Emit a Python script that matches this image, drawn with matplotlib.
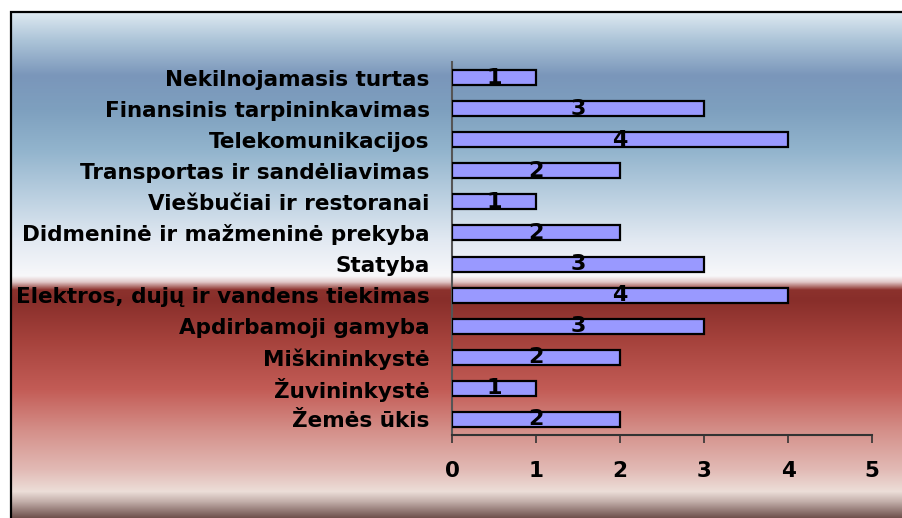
import numpy as np
import matplotlib.pyplot as plt
from matplotlib.patches import Rectangle

plt.rcParams['font.family'] = ['DejaVu Sans']

categories = [
    "Žemės ūkis",
    "Žuvininkystė",
    "Miškininkystė",
    "Apdirbamoji gamyba",
    "Elektros, dujų ir vandens tiekimas",
    "Statyba",
    "Didmeninė ir mažmeninė prekyba",
    "Viešbučiai ir restoranai",
    "Transportas ir sandėliavimas",
    "Telekomunikacijos",
    "Finansinis tarpininkavimas",
    "Nekilnojamasis turtas",
]
values = [2, 1, 2, 3, 4, 3, 2, 1, 2, 4, 3, 1]
x_ticks = [0, 1, 2, 3, 4, 5]

W, H = 902, 518
fig = plt.figure(figsize=(W / 100, H / 100), dpi=100)

# background gradient (pixel rows from top of image -> rgb)
stops = [
    (12, (222, 233, 241)), (40, (172, 196, 216)), (75, (122, 150, 186)),
    (110, (126, 160, 191)), (150, (146, 180, 205)), (200, (190, 210, 226)),
    (240, (226, 233, 242)), (276, (248, 248, 250)), (282, (225, 200, 200)),
    (290, (140, 50, 45)), (300, (136, 46, 42)), (340, (165, 66, 60)),
    (390, (195, 92, 86)), (430, (212, 142, 136)), (470, (226, 186, 181)),
    (492, (236, 222, 216)), (502, (195, 175, 170)), (518, (112, 82, 78)),
]
rows = np.arange(12, H + 1)
sy = [s[0] for s in stops]
grad = np.stack([np.interp(rows, sy, [s[1][c] for s in stops]) for c in range(3)], axis=1) / 255
bg = fig.add_axes([11 / W, 0, 1 - 11 / W, (H - 12) / H])
bg.imshow(grad[:, None, :], aspect='auto', extent=[0, 1, 0, 1])
bg.set_axis_off()
fig.patches.append(Rectangle((11 / W, -0.01), 1.0, (H - 12) / H + 0.01,
                             transform=fig.transFigure, fill=False,
                             edgecolor='black', linewidth=1.6))

ax = fig.add_axes([452 / W, 1 - 435 / H, 420 / W, 373 / H])
ax.patch.set_alpha(0)
y = np.arange(len(categories))
bars = ax.barh(y, values, height=0.48, color='#9999ff', edgecolor='black', linewidth=1.6, zorder=3)

# soft vertical shading inside each bar
shade = np.array([0.5, 0.75, 0.95, 1.0, 0.95, 0.8, 0.55])[:, None]
base = np.array([153, 153, 255]) / 255
img = np.clip(base[None, None, :] * shade[:, :, None] + (1 - shade[:, :, None]) * np.array([0.35, 0.35, 0.7]), 0, 1)
for b in bars:
    im = ax.imshow(img, aspect='auto', zorder=2.5,
                   extent=[b.get_x(), b.get_x() + b.get_width(), b.get_y(), b.get_y() + b.get_height()])
    im.set_clip_path(b)

for yi, v in zip(y, values):
    ax.text(v / 2, yi, str(v), ha='center', va='center', fontsize=16,
            fontweight='bold', zorder=4)

ax.set_xlim(0, 5)
ax.set_ylim(-0.5, len(categories) - 0.5)
ax.set_xticks(x_ticks)
ax.set_xticklabels([str(t) for t in x_ticks], fontsize=15.5, fontweight='bold')
ax.set_yticks(y)
ax.set_yticklabels(categories, fontsize=15.5, fontweight='bold')
ax.tick_params(axis='y', length=0, pad=16)
ax.tick_params(axis='x', length=6, width=1.2, color='#333333', pad=13, direction='out')
for s in ['top', 'right']:
    ax.spines[s].set_visible(False)
ax.spines['left'].set_color('#555555')
ax.spines['bottom'].set_color('#333333')
ax.spines['left'].set_linewidth(1.5)
ax.spines['bottom'].set_linewidth(1.5)

fig.savefig('out.png', dpi=100)
